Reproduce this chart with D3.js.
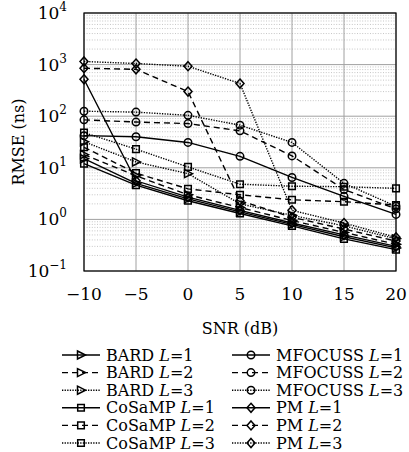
<!DOCTYPE html>
<html>
<head>
<meta charset="utf-8">
<script src="https://cdn.jsdelivr.net/npm/d3@7"></script>
<style>
  body { margin: 0; background: #fff; }
  svg, svg text, svg tspan { font-family: "DejaVu Serif", "Liberation Serif", serif !important; }
</style>
</head>
<body>
<div id="app"></div>
<script>
// snr axis
const snr = [-10, -5, 0, 5, 10, 15, 20]
const yTickExp = [-1, 0, 1, 2, 3, 4]

// RMSE (ns)
const bardL1 = [15, 5.0, 2.5, 1.4, 0.8, 0.46, 0.28]
const bardL2 = [18, 7.0, 3.0, 1.7, 0.95, 0.56, 0.33]
const bardL3 = [32, 13, 7.7, 2.0, 1.2, 0.75, 0.42]
const cosampL1 = [12, 4.6, 2.3, 1.3, 0.75, 0.42, 0.26]
const cosampL2 = [25, 7.9, 3.9, 3.0, 2.4, 2.2, 1.9]
const cosampL3 = [48, 23, 10.4, 4.8, 4.4, 4.3, 4.0]
const mfocussL1 = [42, 40, 31, 16.7, 6.5, 2.8, 1.25]
const mfocussL2 = [85, 77, 72, 52, 17, 3.8, 1.6]
const mfocussL3 = [125, 120, 104, 67, 31, 5, 1.8]
const pmL1 = [520, 5.6, 2.7, 1.5, 0.85, 0.5, 0.3]
const pmL2 = [850, 810, 300, 2.3, 1.1, 0.65, 0.38]
const pmL3 = [1150, 1050, 930, 430, 1.5, 0.85, 0.45]

const series = [
  { name: 'BARD', L: 1, mark: 'tri', v: bardL1 },
  { name: 'BARD', L: 2, mark: 'tri', v: bardL2 },
  { name: 'BARD', L: 3, mark: 'tri', v: bardL3 },
  { name: 'CoSaMP', L: 1, mark: 'sq', v: cosampL1 },
  { name: 'CoSaMP', L: 2, mark: 'sq', v: cosampL2 },
  { name: 'CoSaMP', L: 3, mark: 'sq', v: cosampL3 },
  { name: 'MFOCUSS', L: 1, mark: 'circ', v: mfocussL1 },
  { name: 'MFOCUSS', L: 2, mark: 'circ', v: mfocussL2 },
  { name: 'MFOCUSS', L: 3, mark: 'circ', v: mfocussL3 },
  { name: 'PM', L: 1, mark: 'dia', v: pmL1 },
  { name: 'PM', L: 2, mark: 'dia', v: pmL2 },
  { name: 'PM', L: 3, mark: 'dia', v: pmL3 }
]

let W = 409, H = 452
let m = { left: 84, right: 396, top: 13, bottom: 271 }

let svg = d3.select('#app').append('svg').attr('width', W).attr('height', H)

let x = d3.scaleLinear().domain([-10, 20]).range([m.left, m.right])
let y = d3.scaleLog().domain([0.1, 10000]).range([m.bottom, m.top])

// minor grid
let minor = []
for (let e = -1; e < 4; e++) for (let k = 2; k <= 9; k++) minor.push(k * Math.pow(10, e))
svg.append('g').selectAll('line').data(minor).enter().append('line')
  .attr('x1', m.left).attr('x2', m.right)
  .attr('y1', d => y(d)).attr('y2', d => y(d))
  .style('stroke', '#b8b8b8').style('stroke-width', 0.8).style('stroke-dasharray', '1,1.6')

// major grid
svg.append('g').selectAll('line').data(yTickExp).enter().append('line')
  .attr('x1', m.left).attr('x2', m.right)
  .attr('y1', d => y(Math.pow(10, d))).attr('y2', d => y(Math.pow(10, d)))
  .style('stroke', '#a0a0a0').style('stroke-width', 1)
svg.append('g').selectAll('line').data(snr).enter().append('line')
  .attr('x1', d => x(d)).attr('x2', d => x(d))
  .attr('y1', m.top).attr('y2', m.bottom)
  .style('stroke', '#a0a0a0').style('stroke-width', 1)

const dash = { 1: null, 2: '6,4', 3: '1.3,1.3' }

function drawMark (g, type, cx, cy) {
  let s = g.append('path').attr('transform', `translate(${cx},${cy})`)
    .style('fill', 'none').style('stroke', '#000').style('stroke-width', 1.5)
  if (type === 'tri') s.attr('d', 'M-3.5,-4L4.5,0L-3.5,4Z')
  if (type === 'sq') s.attr('d', 'M-3.3,-3.3H3.3V3.3H-3.3Z')
  if (type === 'circ') s.attr('d', d3.symbol(d3.symbolCircle, 44)())
  if (type === 'dia') s.attr('d', 'M0,-4.5L4,0L0,4.5L-4,0Z')
}

let line = d3.line().x((d, i) => x(snr[i])).y(d => y(d))
let plot = svg.append('g')
series.forEach(s => {
  plot.append('path').datum(s.v).attr('d', line)
    .style('fill', 'none').style('stroke', '#000').style('stroke-width', 1.4)
    .style('stroke-dasharray', dash[s.L])
})
series.forEach(s => {
  s.v.forEach((v, i) => drawMark(plot, s.mark, x(snr[i]), y(v)))
})

// frame
svg.append('rect').attr('x', m.left).attr('y', m.top)
  .attr('width', m.right - m.left).attr('height', m.bottom - m.top)
  .style('fill', 'none').style('stroke', '#000').style('stroke-width', 1.2)

// tick labels
svg.append('g').selectAll('text').data(snr).enter().append('text')
  .attr('x', d => x(d)).attr('y', 300)
  .attr('text-anchor', 'middle').style('font-size', '17px')
  .text(d => d < 0 ? '\u2212' + Math.abs(d) : d)

let yl = svg.append('g').selectAll('text').data(yTickExp).enter().append('text')
  .attr('x', 67).attr('y', d => y(Math.pow(10, d)) + 6)
  .attr('text-anchor', 'end').style('font-size', '17px')
yl.append('tspan').text('10')
yl.append('tspan').attr('dy', -8).style('font-size', '12px')
  .text(d => d < 0 ? '\u2212' + Math.abs(d) : d)

// axis titles
svg.append('text').attr('x', 240).attr('y', 334).attr('text-anchor', 'middle')
  .style('font-size', '16px').text('SNR (dB)')
svg.append('text').attr('transform', 'translate(24,142) rotate(-90)')
  .attr('text-anchor', 'middle').style('font-size', '16px').text('RMSE (ns)')

// legend
let lg = svg.append('g')
series.forEach((s, i) => {
  let col = i < 6 ? 0 : 1
  let row = i % 6
  let x0 = col === 0 ? 62 : 232
  let yy = 355 + row * 17.6
  lg.append('line').attr('x1', x0).attr('x2', x0 + 38).attr('y1', yy).attr('y2', yy)
    .style('stroke', '#000').style('stroke-width', 1.4).style('stroke-dasharray', dash[s.L])
  drawMark(lg, s.mark, x0 + 19, yy)
  let t = lg.append('text').attr('x', x0 + 44).attr('y', yy + 5.5).style('font-size', '16px')
  t.append('tspan').text(s.name + ' ')
  t.append('tspan').style('font-style', 'italic').text('L')
  t.append('tspan').text('=' + s.L)
})
</script>
</body>
</html>
